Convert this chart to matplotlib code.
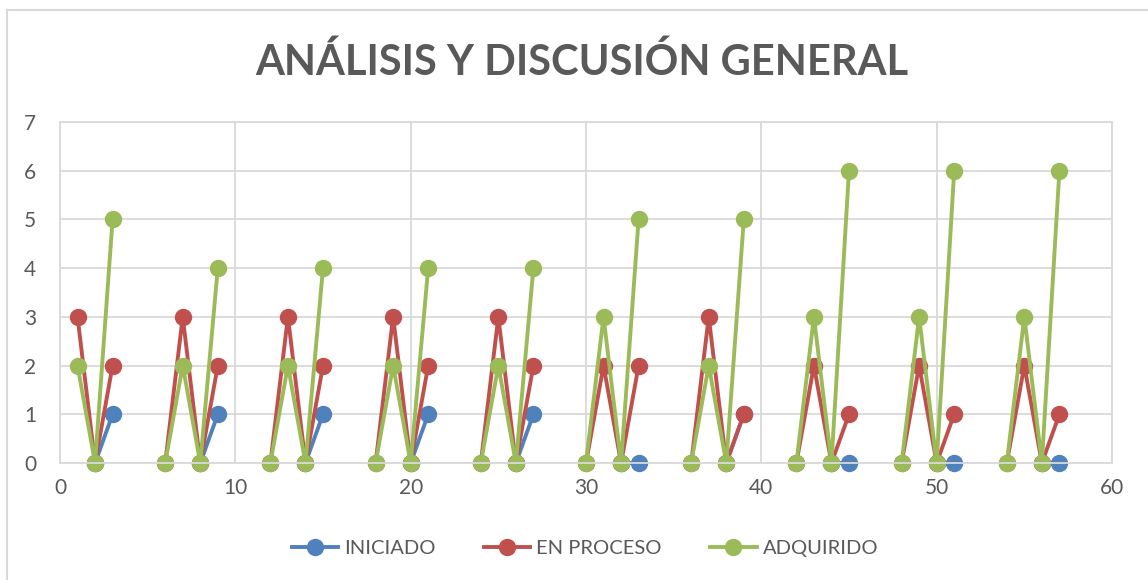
import numpy as np
import matplotlib.pyplot as plt
from matplotlib.lines import Line2D

# each group covers 4 consecutive x values starting at group_x
group_x = [0, 6, 12, 18, 24, 30, 36, 42, 48, 54]

iniciado = [[None, None, 0, 1], [None, None, 0, 1], [None, None, 0, 1], [None, None, 0, 1],
            [None, None, 0, 1], [None, None, 0, 0], [None, None, 0, 1], [None, None, 0, 0],
            [None, None, 0, 0], [None, None, 0, 0]]
en_proceso = [[None, 3, 0, 2], [0, 3, 0, 2], [0, 3, 0, 2], [0, 3, 0, 2],
              [0, 3, 0, 2], [0, 2, 0, 2], [0, 3, 0, 1], [0, 2, 0, 1],
              [0, 2, 0, 1], [0, 2, 0, 1]]
adquirido = [[None, 2, 0, 5], [0, 2, 0, 4], [0, 2, 0, 4], [0, 2, 0, 4],
             [0, 2, 0, 4], [0, 3, 0, 5], [0, 2, 0, 5], [0, 3, 0, 6],
             [0, 3, 0, 6], [0, 3, 0, 6]]

series_names = ["INICIADO", "EN PROCESO", "ADQUIRIDO"]
colors = ["#4f81bd", "#c0504d", "#9bbb59"]
text_col = "#595959"
grid_col = "#d9d9d9"


def flatten(groups):
    xs, ys = [], []
    for g0, vals in zip(group_x, groups):
        for i, v in enumerate(vals):
            xs.append(g0 + i)
            ys.append(np.nan if v is None else v)
        xs.append(np.nan)
        ys.append(np.nan)
    return np.array(xs, dtype=float), np.array(ys, dtype=float)


plt.rcParams['font.family'] = ['Lato', 'DejaVu Sans']

fig = plt.figure(figsize=(11.48, 5.8), dpi=100)
ax = fig.add_axes([60 / 1148, 117 / 580, 1052 / 1148, 341 / 580])

for data, name, c in zip([iniciado, en_proceso, adquirido], series_names, colors):
    xs, ys = flatten(data)
    ax.plot(xs, ys, color=c, lw=2.8, marker='o', ms=11.5, label=name,
            solid_joinstyle='round', clip_on=False)

ax.set_xlim(0, 60)
ax.set_ylim(0, 7)
ax.set_xticks(np.arange(0, 61, 10))
ax.set_yticks(np.arange(0, 8, 1))
ax.grid(True, color=grid_col, lw=1.3)
ax.set_axisbelow(True)
for s in ax.spines.values():
    s.set_color(grid_col)
    s.set_linewidth(1.3)
ax.tick_params(length=0, labelsize=15, colors=text_col)
ax.tick_params(axis='x', pad=11)
ax.tick_params(axis='y', pad=17)

fig.text(582 / 1148, 1 - 62 / 580, "ANÁLISIS Y DISCUSIÓN GENERAL",
         ha='center', va='center', fontsize=30, fontweight='bold', color=text_col)

leg = fig.legend(loc='center', bbox_to_anchor=(585 / 1148, 1 - 548 / 580), ncol=3,
                 frameon=False, fontsize=14.5, handlelength=2.3, columnspacing=2.4,
                 handletextpad=0.3)
for t in leg.get_texts():
    t.set_color(text_col)

# chart area border (top and left only visible)
fig.add_artist(Line2D([7 / 1148, 1], [1 - 10 / 580, 1 - 10 / 580],
                      transform=fig.transFigure, color=grid_col, lw=1.5))
fig.add_artist(Line2D([7 / 1148, 7 / 1148], [0, 1 - 10 / 580],
                      transform=fig.transFigure, color=grid_col, lw=1.5))

fig.savefig("out.png", dpi=100)
